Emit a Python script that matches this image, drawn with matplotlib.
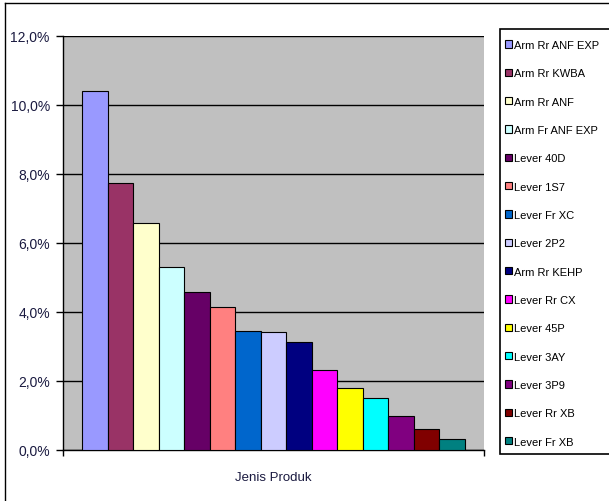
import matplotlib
matplotlib.use("Agg")
import matplotlib.pyplot as plt
from matplotlib.patches import Rectangle, Patch
from matplotlib.lines import Line2D
from matplotlib.ticker import FuncFormatter

products = ["Arm Rr ANF EXP", "Arm Rr KWBA", "Arm Rr ANF", "Arm Fr ANF EXP",
            "Lever 40D", "Lever 1S7", "Lever Fr XC", "Lever 2P2", "Arm Rr KEHP",
            "Lever Rr CX", "Lever 45P", "Lever 3AY", "Lever 3P9", "Lever Rr XB",
            "Lever Fr XB"]
shares = [10.4, 7.75, 6.58, 5.3, 4.57, 4.15, 3.46, 3.42, 3.14,
          2.33, 1.81, 1.52, 1.0, 0.6, 0.31]
colours = ["#9999FF", "#993366", "#FFFFCC", "#CCFFFF", "#660066", "#FF8080",
           "#0066CC", "#CCCCFF", "#000080", "#FF00FF", "#FFFF00", "#00FFFF",
           "#800080", "#800000", "#008080"]
yticks = [0, 2, 4, 6, 8, 10, 12]

plt.rcParams['font.family'] = ['Liberation Sans', 'DejaVu Sans']

fig = plt.figure(figsize=(6.09, 5.02), dpi=100)
ax = fig.add_axes([63 / 609, 51 / 502, 421 / 609, 414 / 502])
ax.set_facecolor("#C0C0C0")

for i in range(len(shares)):
    ax.bar(i, shares[i], width=1.0, color=colours[i], edgecolor="black",
           linewidth=0.8, label=products[i], zorder=3)

ax.set_xlim(-0.5 - 0.76, len(shares) - 0.5 + 0.76)
ax.set_ylim(0, 12)
ax.set_yticks(yticks)
ax.yaxis.set_major_formatter(FuncFormatter(lambda v, p: ("%.1f%%" % v).replace(".", ",")))
ax.grid(axis="y", color="black", linewidth=1.0, zorder=1)
ax.tick_params(axis="y", direction="out", length=5, width=1, labelsize=10,
               pad=4.5, labelcolor="#1a1a40")
ax.set_xticks([])
ax.set_xticks(list(ax.get_xlim()), minor=True)
ax.tick_params(axis="x", which="minor", direction="out", length=4, width=1)
ax.xaxis.set_minor_formatter(FuncFormatter(lambda v, p: ""))
for s in ["top", "right"]:
    ax.spines[s].set_visible(False)
ax.spines["left"].set_linewidth(1)
ax.spines["bottom"].set_linewidth(1)
ax.set_xlabel("Jenis Produk", fontsize=9.5, labelpad=8, color="#1a1a40")

# legend frame
fig.patches.append(Rectangle((500 / 609, 47 / 502), 0.3, 425 / 502,
                             transform=fig.transFigure, facecolor="white",
                             edgecolor="black", linewidth=1.2, zorder=0))
handles = [Patch(facecolor=colours[i], edgecolor="black", linewidth=0.8)
           for i in range(len(products))]
fig.legend(handles, products, loc="upper left",
           bbox_to_anchor=(505 / 609, 1 - 41 / 502), frameon=False,
           fontsize=8, handlelength=0.65, handleheight=0.65,
           handletextpad=0.2, labelspacing=1.65, borderpad=0, borderaxespad=0)

# outer chart border
fig.add_artist(Line2D([5 / 609, 5 / 609], [0, 1 - 4 / 502], transform=fig.transFigure,
                      color="black", linewidth=1))
fig.add_artist(Line2D([5 / 609, 1], [1 - 4 / 502, 1 - 4 / 502], transform=fig.transFigure,
                      color="black", linewidth=1))

fig.savefig("out.png", dpi=100)
